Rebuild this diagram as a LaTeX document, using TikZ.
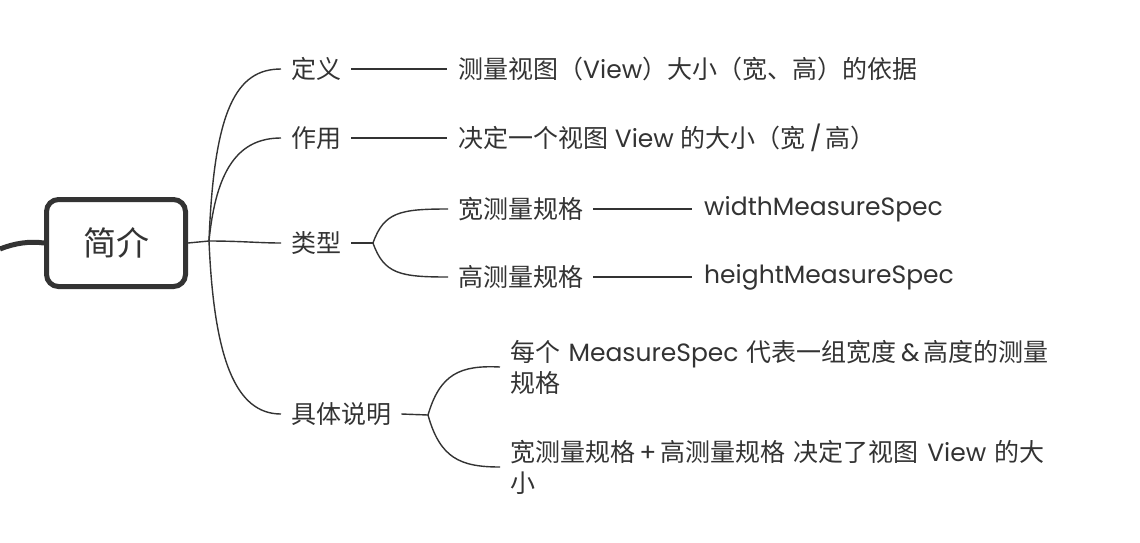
\documentclass[tikz,border=0pt]{standalone}
\usepackage{fontspec}
\setmainfont{Poppins}
\newfontfamily\cjk{Noto Sans CJK SC}
\newcommand\C[1]{{\cjk #1}}
\definecolor{ink}{HTML}{333333}
\begin{document}
\begin{tikzpicture}[x=1pt,y=-1pt,
  txt/.style={anchor=west,inner sep=0pt,inner xsep=10pt,text=ink,font=\fontsize{25}{31}\selectfont},
  multi/.style={txt,align=left,text width=600pt,font=\fontsize{25}{31}\selectfont},
  conn/.style={draw=ink,line width=1.4pt},
  rootbox/.style={draw=ink,line width=5pt,rounded corners=12pt,fill=white,minimum width=139pt,minimum height=87pt,text=ink,font=\fontsize{33}{40}\selectfont}]
\useasboundingbox (0,0) rectangle (1140,542);
\node[rootbox] (root) at (116,243) {\C{简介}};
\coordinate (lft) at (0,249);
\draw[ink,line width=5pt] (lft) .. controls (15,243) and (30,241) .. (root.west);
\coordinate (j) at (209,241);
% level 1
\node[txt] (def) at (281,69) {\C{定义}};
\node[txt] (use) at (281,138) {\C{作用}};
\node[txt] (typ) at (281,243) {\C{类型}};
\node[txt] (det) at (281,414) {\C{具体说明}};
% level 2
\node[txt,inner xsep=11pt] (defT) at (447,69) {\C{测量视图（}View\C{）大小（宽、高）的依据}};
\node[txt,inner xsep=11pt] (useT) at (447,138) {\C{决定一个视图} View \C{的大小（宽}\,/\,\C{高）}};
\node[txt] (wid) at (448,209) {\C{宽测量规格}};
\node[txt] (hei) at (448,277) {\C{高测量规格}};
\node[txt,inner xsep=12pt] (widS) at (692,209) {widthMeasureSpec};
\node[txt,inner xsep=12pt] (heiS) at (692,277) {heightMeasureSpec};
\node[multi] (d1) at (500,367) {\C{每个} MeasureSpec \C{代表一组宽度}\,\&\,\C{高度的测量}\\\C{规格}};
\node[multi] (d2) at (500,467) {\C{宽测量规格}\,+\,\C{高测量规格 决定了视图} View \C{的大}\\\C{小}};
% connectors
\draw[conn] (root.east) -- (j);
\draw[conn] (j) .. controls (214,110) and (236,69) .. (def.west);
\draw[conn] (j) .. controls (216,170) and (238,138) .. (use.west);
\draw[conn] (j) .. controls (240,241) and (260,243) .. (typ.west);
\draw[conn] (j) .. controls (214,360) and (236,414) .. (det.west);
\draw[conn] (def.east) -- (defT.west);
\draw[conn] (use.east) -- (useT.west);
\coordinate (ft) at (373,243);
\draw[conn] (typ.east) -- (ft);
\draw[conn] (ft) .. controls (384,212) and (400,209) .. (wid.west);
\draw[conn] (ft) .. controls (384,274) and (400,277) .. (hei.west);
\draw[conn] (wid.east) -- (widS.west);
\draw[conn] (hei.east) -- (heiS.west);
\coordinate (fd) at (428,415);
\draw[conn] (det.east) -- (fd);
\draw[conn] (fd) .. controls (440,374) and (460,365) .. (d1.west);
\draw[conn] (fd) .. controls (440,458) and (460,467) .. (d2.west);
\end{tikzpicture}
\end{document}
